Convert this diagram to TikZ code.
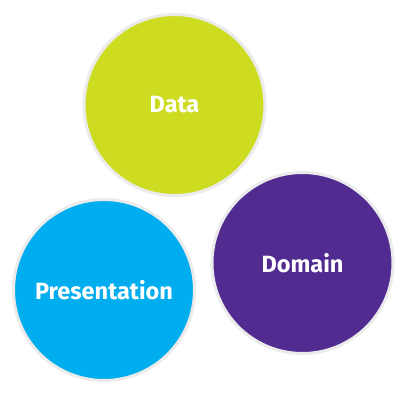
\documentclass[tikz,border=0pt]{standalone}
\usepackage{fontspec}
\setmainfont{Fira Sans}
\definecolor{cdata}{HTML}{CDDC21}
\definecolor{cdomain}{HTML}{522B91}
\definecolor{cpres}{HTML}{00ADEF}
\definecolor{cring}{HTML}{EBEBEB}
\tikzset{
  blob/.style={circle, draw=cring, line width=3pt, minimum size=181pt, inner sep=0pt,
    text=white, font=\bfseries\fontsize{23.5}{27}\selectfont}
}
\begin{document}
\begin{tikzpicture}[x=1pt,y=1pt]
\useasboundingbox (0,0) rectangle (400,400);
\node[blob, fill=cdata] (data) at (174.5,295) {Data};
\node[blob, fill=cdomain] (domain) at (302.5,137) {Domain};
\node[blob, fill=cpres] (pres) at (104,110) {Presentation};
\end{tikzpicture}
\end{document}
